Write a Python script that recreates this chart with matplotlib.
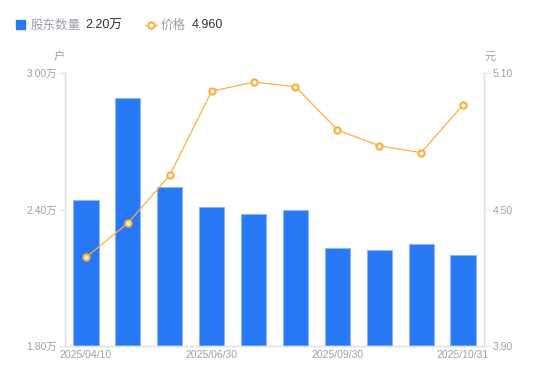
import matplotlib
matplotlib.use("Agg")
import matplotlib.pyplot as plt
from matplotlib.lines import Line2D
import numpy as np

plt.rcParams['font.family'] = ['Liberation Sans', 'Noto Sans CJK SC', 'DejaVu Sans']

dates = ["2025/04/10", "2025/04/30", "2025/05/20", "2025/06/30", "2025/07/20",
         "2025/08/20", "2025/09/30", "2025/10/10", "2025/10/20", "2025/10/31"]
holders = [2.44, 2.89, 2.50, 2.41, 2.38, 2.40, 2.23, 2.22, 2.25, 2.20]  # 万户
price = [4.29, 4.44, 4.65, 5.02, 5.06, 5.04, 4.85, 4.78, 4.75, 4.96]
shown_idx = [0, 3, 6, 9]
left_ticks = [1.80, 2.40, 3.00]
right_ticks = [3.90, 4.50, 5.10]

BLUE = "#2877f5"
EDGE = "#8ab6fb"
ORANGE = "#f6b23c"
GRAY = "#9d9fab"
AXC = "#e3e3e6"

fig = plt.figure(figsize=(5.5, 3.81), dpi=100)
ax = fig.add_axes([65/550, 35/381, (484-65)/550, (346-73)/381])
ax2 = ax.twinx()

x = np.arange(len(dates))
ax.bar(x, holders, width=0.6, color=BLUE, edgecolor=EDGE, linewidth=0.8, zorder=2, bottom=0)
ax.set_xlim(-0.5, len(dates) - 0.5)
ax.set_ylim(left_ticks[0], left_ticks[-1])
ax.set_yticks(left_ticks)
ax.set_yticklabels([f"{v:.2f}万" for v in left_ticks])
ax.set_xticks([x[i] for i in shown_idx])
ax.set_xticklabels([dates[i] for i in shown_idx])

ax2.plot(x, price, color=ORANGE, lw=0.9, marker='o', ms=4.5, mfc='#fff7e6',
         mec=ORANGE, mew=1.5, zorder=3)
ax2.set_ylim(right_ticks[0], right_ticks[-1])
ax2.set_yticks(right_ticks)
ax2.set_yticklabels([f"{v:.2f}" for v in right_ticks])

for a in (ax, ax2):
    for s in a.spines.values():
        s.set_color(AXC)
        s.set_linewidth(1.0)
    a.spines['top'].set_visible(False)
    a.tick_params(axis='y', colors=AXC, labelcolor=GRAY, labelsize=7.5, length=4, width=0.8, pad=2)
    a.tick_params(axis='x', length=0, labelcolor=GRAY, labelsize=7.5, pad=3)

fig.text(59/550, 1 - 57/381, "户", color=GRAY, fontsize=8, ha='center', va='center')
fig.text(490/550, 1 - 57/381, "元", color=GRAY, fontsize=8, ha='center', va='center')

# legend
yl = 1 - 25.5/381
fig.patches.append(plt.Rectangle((16/550, 1 - 29/381), 9/550, 9/381, transform=fig.transFigure,
                                 color=BLUE, figure=fig))
fig.text(31/550, yl, "股东数量", color=GRAY, fontsize=9, va='center', ha='left')
fig.text(85/550, yl, f"{holders[-1]:.2f}万", color="#333333", fontsize=9, va='center', ha='left')
fig.lines.append(Line2D([145/550, 157/550], [1 - 24.5/381, 1 - 24.5/381], transform=fig.transFigure,
                        color=ORANGE, lw=1, figure=fig))
fig.lines.append(Line2D([151/550], [1 - 24.5/381], transform=fig.transFigure, color=ORANGE, lw=0,
                        marker='o', ms=4.5, mfc='white', mec=ORANGE, mew=1.5, figure=fig))
fig.text(161/550, yl, "价格", color=GRAY, fontsize=9, va='center', ha='left')
fig.text(192/550, yl, f"{price[-1]:.3f}", color="#333333", fontsize=9, va='center', ha='left')

fig.savefig("out.png", dpi=100)
